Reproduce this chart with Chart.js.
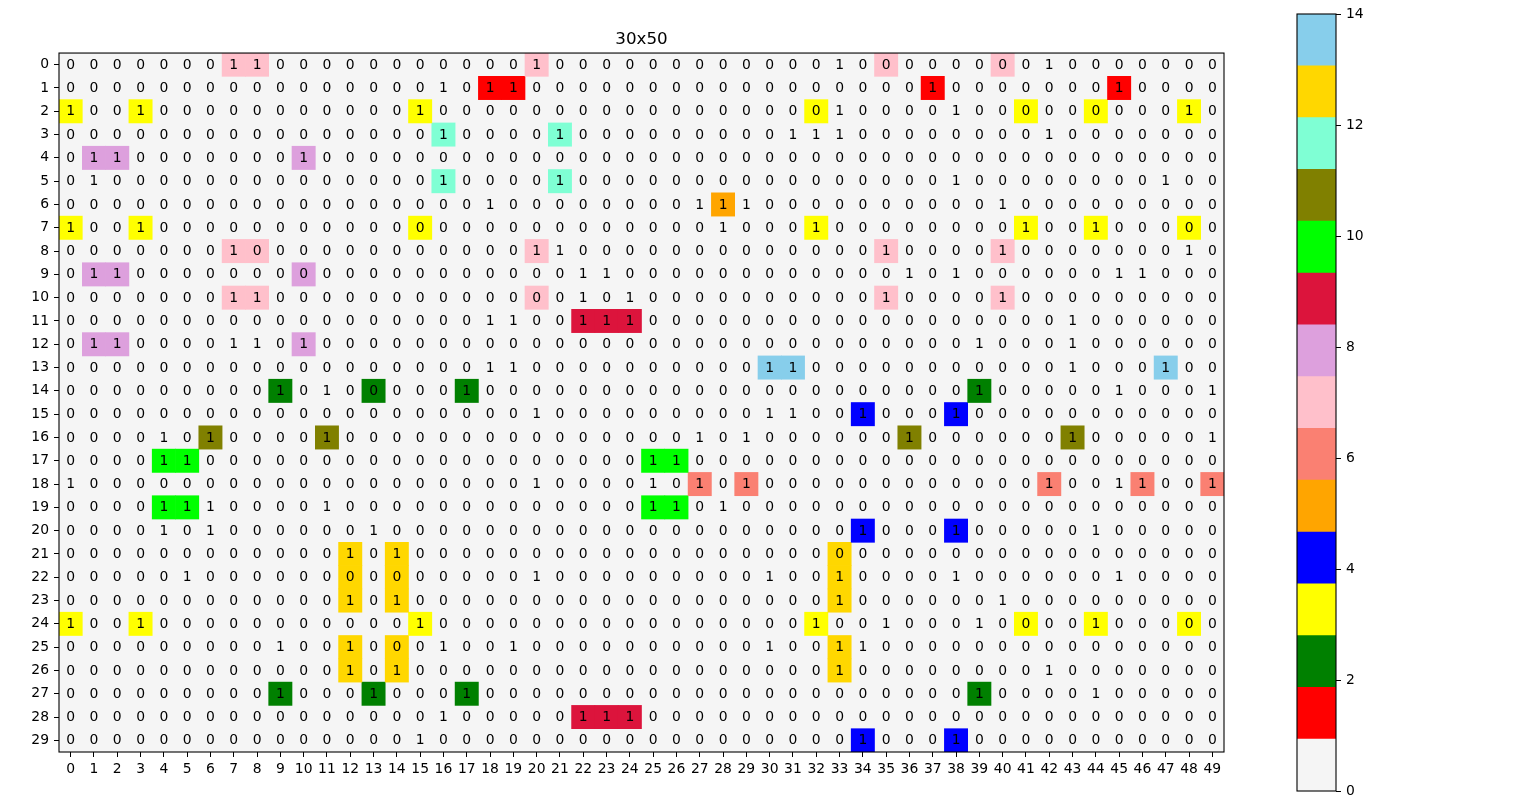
<!DOCTYPE html>
<html><head><meta charset="utf-8">
<script src="https://cdn.jsdelivr.net/npm/chart.js@4/dist/chart.umd.min.js"></script>
<style>
html,body{margin:0;padding:0;background:#fff;width:1536px;height:807px;overflow:hidden;}
#main{position:absolute;left:0;top:0;}
#cbar{position:absolute;left:1290px;top:0;}
</style></head><body>
<canvas id="main" width="1260" height="807"></canvas>
<canvas id="cbar" width="90" height="807"></canvas>
<script>
// ---------- data ----------
const chartTitle = '30x50';
const rowLabels = [0,1,2,3,4,5,6,7,8,9,10,11,12,13,14,15,16,17,18,19,20,21,22,23,24,25,26,27,28,29];
const colLabels = [0,1,2,3,4,5,6,7,8,9,10,11,12,13,14,15,16,17,18,19,20,21,22,23,24,25,26,27,28,29,
                   30,31,32,33,34,35,36,37,38,39,40,41,42,43,44,45,46,47,48,49];
// columns whose annotation reads "1" (all other cells read "0")
const onesByRow = [
  [7,8,20,33,42],
  [16,18,19,37,45],
  [0,3,15,33,38,48],
  [16,21,31,32,33,42],
  [1,2,10],
  [1,16,21,38,47],
  [18,27,28,29,40],
  [0,3,28,32,41,44],
  [7,20,21,35,40,48],
  [1,2,22,23,36,38,45,46],
  [7,8,22,24,35,40],
  [18,19,22,23,24,43],
  [1,2,7,8,10,39,43],
  [18,19,30,31,43,47],
  [9,11,17,39,45,49],
  [20,30,31,34,38],
  [4,6,11,27,29,36,43,49],
  [4,5,25,26],
  [0,20,25,27,29,42,45,46,49],
  [4,5,6,11,25,26,28],
  [4,6,13,34,38,44],
  [12,14],
  [5,20,30,33,38,45],
  [12,14,33,40],
  [0,3,15,32,35,39,44],
  [9,12,16,19,30,33,34],
  [12,14,33,42],
  [9,13,17,39,44],
  [16,22,23,24],
  [15,34,38]
];
// colour value (0..14) of the non-zero coloured cells, per row: {value: [columns]}
const colourByRow = [
  {7:[7,8,20,35,40]},
  {1:[18,19,37,45]},
  {3:[0,3,15,32,41,44,48]},
  {12:[16,21]},
  {8:[1,2,10]},
  {12:[16,21]},
  {5:[28]},
  {3:[0,3,15,32,41,44,48]},
  {7:[7,8,20,35,40]},
  {8:[1,2,10]},
  {7:[7,8,20,35,40]},
  {9:[22,23,24]},
  {8:[1,2,10]},
  {14:[30,31,47]},
  {2:[9,13,17,39]},
  {4:[34,38]},
  {11:[6,11,36,43]},
  {10:[4,5,25,26]},
  {6:[27,29,42,46,49]},
  {10:[4,5,25,26]},
  {4:[34,38]},
  {13:[12,14,33]},
  {13:[12,14,33]},
  {13:[12,14,33]},
  {3:[0,3,15,32,41,44,48]},
  {13:[12,14,33]},
  {13:[12,14,33]},
  {2:[9,13,17,39]},
  {9:[22,23,24]},
  {4:[34,38]}
];
const colourList = ['whitesmoke','red','green','yellow','blue','orange','salmon','pink','plum',
                    'crimson','lime','olive','aquamarine','gold','skyblue'];
const cbarMin = 0, cbarMax = 14;
const cbarTicks = [0,2,4,6,8,10,12,14];

// ---------- build matrices ----------
const textMat = rowLabels.map(r => colLabels.map(c => onesByRow[r].includes(c) ? '1' : '0'));
const classMat = rowLabels.map(r => {
  const row = colLabels.map(() => 0);
  Object.entries(colourByRow[r]).forEach(([v, cols]) => cols.forEach(c => { row[c] = +v; }));
  return row;
});

Chart.defaults.font.family = 'DejaVu Sans';
Chart.defaults.font.size = 13.9;
Chart.defaults.color = '#000';

const FONT = '13.9px "DejaVu Sans"';

const bgPlugin = {
  id: 'bg',
  beforeDatasetsDraw(chart) {
    const a = chart.chartArea, ctx = chart.ctx;
    ctx.save(); ctx.fillStyle = colourList[0];
    ctx.fillRect(a.left, a.top, a.right - a.left, a.bottom - a.top);
    ctx.restore();
  }
};
const textPlugin = {
  id: 'cellText',
  afterDatasetsDraw(chart) {
    const ctx = chart.ctx, xs = chart.scales.x, ys = chart.scales.y;
    ctx.save();
    ctx.font = FONT; ctx.fillStyle = '#000';
    ctx.textAlign = 'center'; ctx.textBaseline = 'middle';
    rowLabels.forEach(r => colLabels.forEach((c, ci) => {
      ctx.fillText(textMat[r][ci], xs.getPixelForValue(ci), ys.getPixelForValue(r) + 0.5);
    }));
    ctx.restore();
  }
};
const framePlugin = {
  id: 'frame',
  afterDraw(chart) {
    const a = chart.chartArea, ctx = chart.ctx;
    ctx.save(); ctx.strokeStyle = '#000'; ctx.lineWidth = 1.1;
    ctx.strokeRect(a.left, a.top, a.right - a.left, a.bottom - a.top);
    ctx.restore();
  }
};

const datasets = rowLabels.map(r => ({
  label: 'row ' + r,
  data: colLabels.map((c, ci) => classMat[r][ci] ? [r - 0.5, r + 0.5] : null),
  backgroundColor: colLabels.map((c, ci) => colourList[classMat[r][ci]]),
  borderWidth: 0,
  barPercentage: 1,
  categoryPercentage: 1,
  grouped: false
}));

new Chart(document.getElementById('main'), {
  type: 'bar',
  data: { labels: colLabels.map(String), datasets },
  plugins: [bgPlugin, textPlugin, framePlugin],
  options: {
    responsive: false, animation: false, devicePixelRatio: 1,
    layout: { padding: { left: 0, right: 36, top: 0, bottom: 0 } },
    plugins: {
      legend: { display: false }, tooltip: { enabled: false },
      title: { display: true, text: chartTitle, fullSize: false, color: '#000',
               font: { size: 16.7, weight: 'normal', lineHeight: 1.2 },
               padding: { top: 30, bottom: 3 } }
    },
    scales: {
      x: {
        type: 'category', offset: true,
        grid: { display: true, offset: false, drawOnChartArea: false, drawTicks: true, tickLength: 5, color: '#000', lineWidth: 1 },
        border: { display: false },
        ticks: { autoSkip: false, maxRotation: 0, minRotation: 0, padding: 4 },
        afterFit(s) { s.height = 55; }
      },
      y: {
        type: 'linear', reverse: true, min: -0.5, max: 29.5,
        afterBuildTicks(s) { s.ticks = rowLabels.map(v => ({ value: v })); },
        grid: { display: true, drawOnChartArea: false, drawTicks: true, tickLength: 5, color: '#000', lineWidth: 1 },
        border: { display: false },
        ticks: { autoSkip: false, padding: 5, callback: v => String(v) },
        afterFit(s) { s.width = 59; }
      }
    }
  }
});

// ---------- colour bar ----------
const nCol = colourList.length;
const cbDatasets = colourList.map((col, i) => ({
  label: col,
  data: [[cbarMin + (cbarMax - cbarMin) * i / nCol, cbarMin + (cbarMax - cbarMin) * (i + 1) / nCol]],
  backgroundColor: col, borderWidth: 0, barPercentage: 1, categoryPercentage: 1, grouped: false
}));
new Chart(document.getElementById('cbar'), {
  type: 'bar',
  data: { labels: ['c'], datasets: cbDatasets },
  plugins: [framePlugin],
  options: {
    responsive: false, animation: false, devicePixelRatio: 1,
    layout: { padding: { left: 7, top: 14, bottom: 16, right: 0 } },
    plugins: { legend: { display: false }, tooltip: { enabled: false }, title: { display: false } },
    scales: {
      x: { type: 'category', display: false, offset: true },
      y: {
        type: 'linear', position: 'right', min: cbarMin, max: cbarMax,
        afterBuildTicks(s) { s.ticks = cbarTicks.map(v => ({ value: v })); },
        grid: { display: true, drawOnChartArea: false, drawTicks: true, tickLength: 5, color: '#000', lineWidth: 1 },
        border: { display: false },
        ticks: { padding: 5, callback: v => String(v) },
        afterFit(s) { s.width = 44; }
      }
    }
  }
});
</script>
</body></html>
